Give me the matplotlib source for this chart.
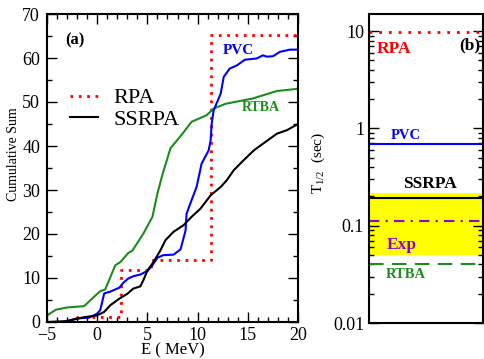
import numpy as np
import matplotlib
matplotlib.use('Agg')
import matplotlib.pyplot as plt
from matplotlib.ticker import MultipleLocator, LogLocator, FixedFormatter, NullFormatter

plt.rcParams['font.family'] = ['Liberation Serif', 'DejaVu Serif']
plt.rcParams['mathtext.fontset'] = 'custom'
plt.rcParams['mathtext.rm'] = 'Liberation Serif'
plt.rcParams['mathtext.it'] = 'Liberation Serif:italic'

# (a) cumulative sums vs E (MeV)
e_rpa = [-5, -2.0, 2.4, 5.4, 11.33, 20]
s_rpa = [0, 1.2, 11.75, 14.0, 65.2, 65.2]

e_pvc = [-3.2, -2, -0.8, 0, 0.3, 0.7, 1.3, 2.2, 2.6, 3.1, 3.6, 4.3, 5.0, 5.5, 6.0, 6.6, 7.6,
         8.3, 8.8, 8.9, 9.4, 9.9, 10.4, 11.1, 11.3, 11.4, 11.6, 12.3, 12.6, 13.2, 13.9, 14.7,
         15.9, 16.5, 16.9, 17.5, 18.2, 19.2, 20]
s_pvc = [0, 0.8, 1.0, 1.9, 2.7, 6.5, 6.9, 7.8, 8.9, 9.9, 10.4, 10.8, 11.6, 12.9, 14.6, 15.2, 15.3,
         16.5, 20.8, 24.6, 27.7, 30.7, 36, 39, 41.3, 45, 48.1, 51.9, 55.7, 57.6, 58.3, 59.6,
         59.9, 60.6, 60.3, 60.4, 61.4, 61.9, 61.9]

e_ssrpa = [-5, -3.1, -1.3, 0, 0.7, 1.3, 2.2, 3.0, 3.6, 4.3, 4.6, 5.0, 5.6, 6.3, 6.8, 7.6, 8.6,
           9.4, 10.3, 11.3, 12.3, 12.9, 13.6, 14.6, 15.6, 16.5, 17.9, 18.9, 20]
s_ssrpa = [0, 0.2, 1.1, 1.5, 2.3, 3.8, 5.3, 6.4, 7.6, 8.1, 9.5, 11.7, 13.6, 16.3, 18.6, 20.5, 22,
           23.9, 25.8, 28.8, 30.7, 32.2, 34.5, 36.8, 39.0, 40.5, 42.8, 43.6, 45.0]

e_rtba = [-5, -4.1, -3, -1.3, 0, 0.3, 0.8, 1.8, 2.3, 3.1, 3.5, 4.6, 5.5, 6.0, 6.5, 7.3, 8.5,
          9.4, 10.9, 11.6, 12.8, 15.5, 17.9, 20]
s_rtba = [1.5, 2.8, 3.3, 3.6, 6.4, 7.0, 7.4, 12.9, 13.6, 15.7, 16.2, 20.1, 23.9, 29.2, 33.5, 39.5,
          42.8, 45.5, 47.0, 48.5, 49.6, 50.8, 52.5, 53.0]

# (b) half-lives (sec)
t_rpa = 9.8
t_pvc = 0.69
t_ssrpa = 0.193
t_exp = 0.111
exp_band = (0.05, 0.216)
t_rtba = 0.0406

RED = '#ff0000'
BLUE = '#0000ff'
GREEN = '#1c8c1c'
PURPLE = '#9900cc'

fig = plt.figure(figsize=(4.85, 3.59), dpi=100)
ax = fig.add_axes([47 / 485, 1 - 322 / 359, 251 / 485, 308 / 359])
bx = fig.add_axes([369 / 485, 1 - 323 / 359, 114.5 / 485, 309 / 359])

# ---- panel (a)
l_rpa, = ax.plot(e_rpa, s_rpa, color=RED, lw=2, ls=(0, (1, 2)), drawstyle='steps-post', label='RPA')
ax.plot(e_rtba, s_rtba, color=GREEN, lw=1.5)
ax.plot(e_pvc, s_pvc, color=BLUE, lw=1.5)
l_ss, = ax.plot(e_ssrpa, s_ssrpa, color='black', lw=1.5, label='SSRPA')

ax.set_xlim(-5, 20)
ax.set_ylim(0, 70)
ax.xaxis.set_major_locator(MultipleLocator(5))
ax.xaxis.set_minor_locator(MultipleLocator(1))
ax.yaxis.set_major_locator(MultipleLocator(10))
ax.yaxis.set_minor_locator(MultipleLocator(5))
ax.tick_params(which='both', direction='in', top=True, right=True, labelsize=13, width=1)
ax.tick_params(which='major', length=7)
ax.tick_params(which='minor', length=3.5)
ax.tick_params(axis='x', pad=3.5)
ax.tick_params(axis='y', pad=5)
for sp in ax.spines.values():
    sp.set_linewidth(1.5)
ax.set_xlabel('E ( MeV)', fontsize=12, labelpad=-1)
ax.set_ylabel('Cumulative Sum', fontsize=10)
ax.yaxis.set_label_coords(-0.108, 0.545)

ax.text(-3.15, 64, '(a)', fontsize=12, fontweight='bold', va='center')
ax.text(12.5, 61.7, 'PVC', fontsize=11, fontweight='bold', color=BLUE, va='center')
ax.text(14.45, 48.7, 'RTBA', fontsize=10, fontweight='bold', color=GREEN, va='center')

ax.legend(handles=[l_rpa, l_ss], frameon=False, loc='upper left',
          bbox_to_anchor=(0.093, 0.76), fontsize=16, handlelength=1.25,
          handletextpad=0.7, labelspacing=0.05, borderpad=0, borderaxespad=0)

# ---- panel (b)
bx.set_yscale('log')
bx.set_xlim(0, 1)
bx.set_ylim(0.01, 15)
bx.axhspan(exp_band[0], exp_band[1], color='#ffff00', lw=0)
bx.axhline(t_rpa, color=RED, lw=2, ls=(0, (1, 2.5)))
bx.axhline(t_pvc, color=BLUE, lw=1.5)
bx.axhline(t_ssrpa, color='black', lw=1.5)
bx.axhline(t_exp, color=PURPLE, lw=1.5, ls=(0, (5, 3, 1, 3)))
bx.axhline(t_rtba, color=GREEN, lw=1.5, ls=(0, (7, 4)))

bx.text(0.07, 6.6, 'RPA', fontsize=12.5, fontweight='bold', color=RED, va='center')
bx.text(0.97, 7.1, '(b)', fontsize=12.5, fontweight='bold', color='black', va='center', ha='right')
bx.text(0.19, 0.85, 'PVC', fontsize=10.5, fontweight='bold', color=BLUE, va='center')
bx.text(0.53, 0.27, 'SSRPA', fontsize=12.5, fontweight='bold', color='black', va='center', ha='center')
bx.text(0.155, 0.063, 'Exp', fontsize=12.5, fontweight='bold', color=PURPLE, va='center')
bx.text(0.147, 0.0318, 'RTBA', fontsize=10.5, fontweight='bold', color=GREEN, va='center')

bx.set_xticks([])
bx.yaxis.set_minor_locator(LogLocator(base=10, subs=np.arange(2, 10), numticks=20))
bx.yaxis.set_minor_formatter(NullFormatter())
bx.set_yticks([0.01, 0.1, 1, 10])
bx.yaxis.set_major_formatter(FixedFormatter(['0.01', '0.1', '1', '10']))
bx.tick_params(which='both', direction='in', left=True, right=True, labelsize=13, width=1)
bx.tick_params(which='major', length=7)
bx.tick_params(which='minor', length=3.5)
for sp in bx.spines.values():
    sp.set_linewidth(1.5)
bx.set_ylabel('T$_{1/2}$  (sec)', fontsize=11)
bx.yaxis.set_label_coords(-0.367, 0.518)

fig.savefig('out.png', dpi=100)
